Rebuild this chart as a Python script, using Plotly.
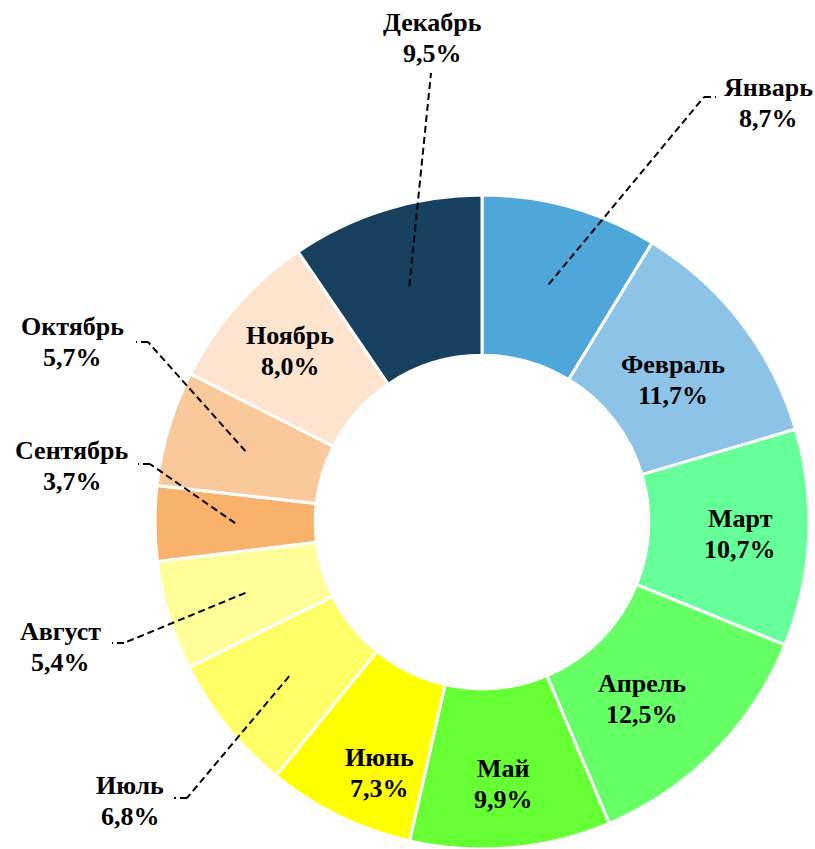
import math
import plotly.graph_objects as go

# ---- data ----
months = ["Январь", "Февраль", "Март", "Апрель", "Май", "Июнь",
          "Июль", "Август", "Сентябрь", "Октябрь", "Ноябрь", "Декабрь"]
shares = [8.7, 11.7, 10.7, 12.5, 9.9, 7.3, 6.8, 5.4, 3.7, 5.7, 8.0, 9.5]

# ---- style ----
colors = ["#4FA6D8", "#8DC3E6", "#66FF99", "#66FF66", "#66FF33", "#FFFF00",
          "#FFFF66", "#FFFF99", "#F9B26C", "#FAC99B", "#FCE4CE", "#17415E"]
W, H = 815, 849
CX, SIZE = 482, 654
dom_x = [(CX - SIZE / 2) / W, (CX + SIZE / 2) / W]
dom_y = [0.0, SIZE / H]
HOLE = 0.51
FONT = dict(family="Liberation Serif, Times New Roman, serif", size=26, color="black")
LINE_GAP = 15.5  # half distance between the two text lines (px)

# outside labels: label centre (px), elbow (px), stub end (px)
outside = {
    "Январь":   dict(label=(768, 103), elbow=(704, 97), stub=(716, 97)),
    "Декабрь":  dict(label=(432, 38), elbow=(431, 73), stub=None),
    "Октябрь":  dict(label=(72, 342), elbow=(148, 342), stub=(136, 342)),
    "Сентябрь": dict(label=(72, 466), elbow=(150, 464), stub=(138, 464)),
    "Август":   dict(label=(60, 647), elbow=(124, 643), stub=(112, 643)),
    "Июль":     dict(label=(130, 801), elbow=(187, 798), stub=(174, 798)),
}
# nudges (px) for labels placed inside the ring
inside_nudge = {
    "Февраль": (-6, 10), "Март": (10, 0), "Апрель": (-17, 3),
    "Май": (0, 14), "Июнь": (6, 28), "Ноябрь": (-5, -7),
}

fig = go.Figure(go.Pie(
    labels=months, values=shares, sort=False, direction="clockwise",
    rotation=0, hole=HOLE, textinfo="none", hoverinfo="label+percent",
    marker=dict(colors=colors, line=dict(color="white", width=3)),
    domain=dict(x=dom_x, y=dom_y), showlegend=False,
))

# geometry in pixels (margins are zero)
cx = (dom_x[0] + dom_x[1]) / 2 * W
cy = H - (dom_y[0] + dom_y[1]) / 2 * H
R = min((dom_x[1] - dom_x[0]) * W, (dom_y[1] - dom_y[0]) * H) / 2
r_mid = R * (1 + HOLE) / 2

def px(x, y):
    return x / W, 1 - y / H

total = sum(shares)
cum = 0.0
annotations, shapes = [], []
for name, v in zip(months, shares):
    theta = 2 * math.pi * (cum + v / 2) / total
    cum += v
    pct = f"{v:.1f}%".replace(".", ",")
    if name in outside:
        o = outside[name]
        sx, sy = cx + r_mid * math.sin(theta), cy - r_mid * math.cos(theta)
        pts = [(sx, sy), o["elbow"]]
        if o["stub"]:
            pts.append(o["stub"])
        for (x0, y0), (x1, y1) in zip(pts[:-1], pts[1:]):
            a0, b0 = px(x0, y0)
            a1, b1 = px(x1, y1)
            shapes.append(dict(type="line", xref="paper", yref="paper",
                               x0=a0, y0=b0, x1=a1, y1=b1,
                               line=dict(color="black", width=2, dash="7px,4px")))
        lxp, lyp = o["label"]
    else:
        rl = R * 0.76
        ndx, ndy = inside_nudge.get(name, (0, 0))
        lxp = cx + rl * math.sin(theta) + ndx
        lyp = cy - rl * math.cos(theta) + ndy
    for txt, dy in ((name, -LINE_GAP), (pct, LINE_GAP)):
        ax, ay = px(lxp, lyp + dy)
        annotations.append(dict(x=ax, y=ay, xref="paper", yref="paper",
                                text=f"<b>{txt}</b>", showarrow=False,
                                xanchor="center", yanchor="middle", font=FONT))

fig.update_layout(
    width=W, height=H, margin=dict(l=0, r=0, t=0, b=0),
    paper_bgcolor="white", plot_bgcolor="white",
    annotations=annotations, shapes=shapes,
)
fig.write_html("out.html", config={"displayModeBar": False},
               post_script="document.body.style.margin='0';")
